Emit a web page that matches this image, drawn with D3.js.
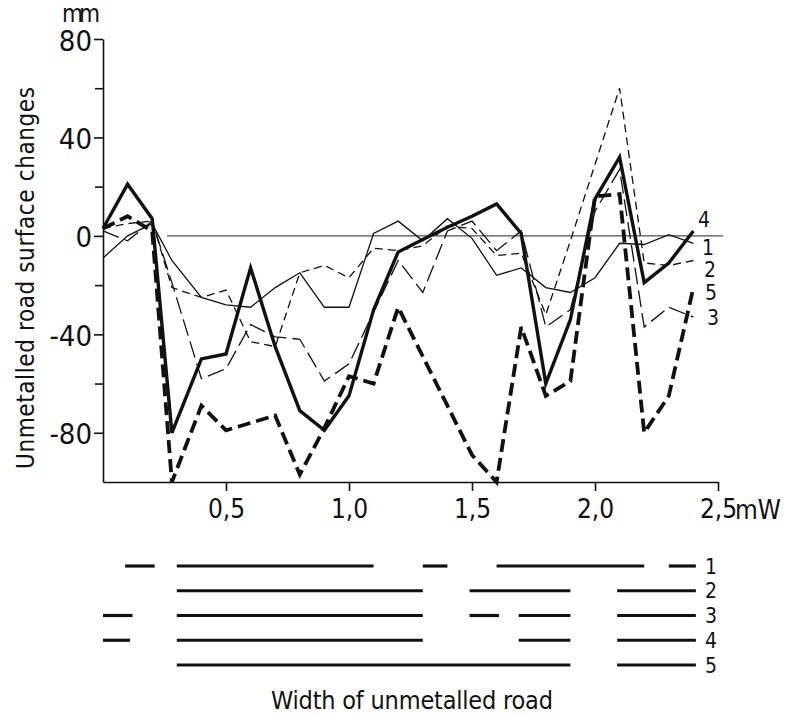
<!DOCTYPE html>
<html>
<head>
<meta charset="utf-8">
<script src="https://cdn.jsdelivr.net/npm/d3@7"></script>
<style>
  body { margin: 0; background: #fff; }
  svg text {
    font-family: "Liberation Sans Narrow", "DejaVu Sans Condensed", "Liberation Sans", sans-serif;
    fill: #111;
  }
</style>
</head>
<body>
<div class="chart"></div>
<script>
var svgWidth = 786;
var svgHeight = 717;

// road width (m) at which the surface change was measured
var widths = [0, 0.1, 0.2, 0.28, 0.4, 0.5, 0.6, 0.7, 0.8, 0.9, 1.0, 1.1, 1.2,
  1.3, 1.4, 1.5, 1.6, 1.7, 1.8, 1.9, 2.0, 2.1, 2.2, 2.3, 2.4];

// surface changes in mm, one array per profile
var series1 = [-9, 0, 5, -10, -25, -28, -29, -21, -15, -29, -29, 1, 6, -2, 7, -1, -16, -13, -21, -23, -17, -3, -3.5, 0.5, -3];
var series2 = [3, 5, 6, -21, -25, -22, -43, -45, -15, -12, -17, -5, -6, -4, 4, 3, -8, -7, -32, -2, 29, 60, -11, -12, -10];
var series3 = [2, -2, 6, -19, -58, -54, -36, -41, -42, -59, -52, -31, -10, -23, 2, 6, -6, 2, -37, -30, 10, 27, -37, -29, -33];
var series4 = [3, 21, 7, -80, -50, -48, -13, -45, -71, -79, -65, -30, -6.5, -1.5, 3.5, 8, 13, 1, -60, -34, 15, 32, -19, -11, 2];
var series5 = [3, 8, 2, -100, -69, -79, -76, -73, -97, -78, -57, -60, -29, -49, -69, -89, -100, -37, -65, -59, 16, 17, -80, -65, -21];

// where each curve's number is written, in mm
var seriesNames = ["1", "2", "3", "4", "5"];
var seriesLabelAt = [-4.5, -13.5, -33, 6.5, -23];

var yMajor = [-80, -40, 0, 40, 80];
var yMinor = [-60, -20, 20, 60];
var xTicks = [0.5, 1.0, 1.5, 2.0, 2.5];

// stretches of road width covered by each profile (lower panel)
var cover1 = [[0.09, 0.21], [0.3, 1.1], [1.3, 1.4], [1.6, 2.2], [2.3, 2.41]];
var cover2 = [[0.3, 1.3], [1.49, 1.9], [2.09, 2.41]];
var cover3 = [[0, 0.12], [0.3, 1.3], [1.49, 1.61], [1.69, 1.9], [2.09, 2.41]];
var cover4 = [[0, 0.11], [0.3, 1.3], [1.69, 1.9], [2.09, 2.41]];
var cover5 = [[0.3, 1.9], [2.09, 2.41]];

var svg = d3.select(".chart")
  .append("svg")
  .attr("width", svgWidth)
  .attr("height", svgHeight);

var x = d3.scaleLinear().domain([0, 2.5]).range([103, 718]);
var y = d3.scaleLinear().domain([-100, 80]).range([482, 39]);

// zero line
svg.append("line")
  .attr("x1", x(0.26)).attr("x2", x(2.52))
  .attr("y1", y(0)).attr("y2", y(0))
  .attr("stroke", "#222")
  .attr("stroke-width", 1);

// y axis
var leftAxis = d3.axisLeft(y).tickValues(yMajor).tickSize(9).tickSizeOuter(0)
  .tickFormat(d => d < 0 ? "-" + Math.abs(d) : d);
var yAxis = svg.append("g")
  .attr("transform", `translate(${x(0)},0)`)
  .call(leftAxis);
svg.append("g")
  .attr("transform", `translate(${x(0)},0)`)
  .call(d3.axisLeft(y).tickValues(yMinor).tickSize(8).tickSizeOuter(0).tickFormat(""))
  .select(".domain").remove();

// x axis
var bottomAxis = d3.axisBottom(x).tickValues(xTicks).tickSize(9).tickSizeOuter(0)
  .tickFormat(d => d3.format(".1f")(d).replace(".", ","));
var xAxis = svg.append("g")
  .attr("transform", `translate(0,${y(-100)})`)
  .call(bottomAxis);

svg.selectAll(".domain, .tick line")
  .attr("stroke", "#111")
  .attr("stroke-width", 1.6);

yAxis.selectAll("text")
  .attr("font-size", 29)
  .attr("x", -11)
  .attr("dy", "0.38em");
xAxis.selectAll("text")
  .attr("font-size", 26)
  .attr("y", 27)
  .attr("dy", "0.36em");

svg.append("text")
  .attr("x", x(2.5) + 17)
  .attr("y", y(-100) + 37)
  .attr("font-size", 26)
  .text("mW");

svg.append("text")
  .attr("x", 62)
  .attr("y", 22)
  .attr("font-size", 24)
  .attr("textLength", 38)
  .attr("lengthAdjust", "spacing")
  .text("mm");

svg.append("text")
  .attr("transform", "translate(34,278) rotate(-90)")
  .attr("text-anchor", "middle")
  .attr("font-size", 24)
  .attr("textLength", 382)
  .attr("lengthAdjust", "spacing")
  .text("Unmetalled road surface changes");

// curves
var styles = [
  { data: series1, width: 1.3, dash: null },
  { data: series2, width: 1.3, dash: "8,5" },
  { data: series3, width: 1.3, dash: "17,6" },
  { data: series4, width: 3.4, dash: null },
  { data: series5, width: 3.8, dash: "13,6" }
];

var line = d3.line()
  .x((d, i) => x(widths[i]))
  .y(d => y(d));

svg.selectAll(".curve")
  .data(styles)
  .enter()
  .append("path")
  .attr("class", "curve")
  .attr("d", d => line(d.data))
  .attr("fill", "none")
  .attr("stroke", "#111")
  .attr("stroke-width", d => d.width)
  .attr("stroke-dasharray", d => d.dash)
  .attr("stroke-linejoin", "miter");

svg.selectAll(".curve-label")
  .data(seriesNames)
  .enter()
  .append("text")
  .attr("class", "curve-label")
  .attr("x", (d, i) => [702, 704, 707, 698, 705][i])
  .attr("y", (d, i) => y(seriesLabelAt[i]))
  .attr("dy", "0.36em")
  .attr("font-size", 21)
  .text(d => d);

// lower panel: coverage bars
var covers = [cover1, cover2, cover3, cover4, cover5];
var row = d3.scalePoint().domain(seriesNames).range([566, 665]);

covers.forEach(function(segs, k) {
  svg.append("g")
    .selectAll("line")
    .data(segs)
    .enter()
    .append("line")
    .attr("x1", d => x(d[0]))
    .attr("x2", d => x(d[1]))
    .attr("y1", row(seriesNames[k]))
    .attr("y2", row(seriesNames[k]))
    .attr("stroke", "#111")
    .attr("stroke-width", 3.2);

  svg.append("text")
    .attr("x", 705)
    .attr("y", row(seriesNames[k]))
    .attr("dy", "0.36em")
    .attr("font-size", 21)
    .text(seriesNames[k]);
});

svg.append("text")
  .attr("x", 412)
  .attr("y", 709)
  .attr("text-anchor", "middle")
  .attr("font-size", 25)
  .attr("textLength", 282)
  .attr("lengthAdjust", "spacing")
  .text("Width of unmetalled road");
</script>
</body>
</html>
